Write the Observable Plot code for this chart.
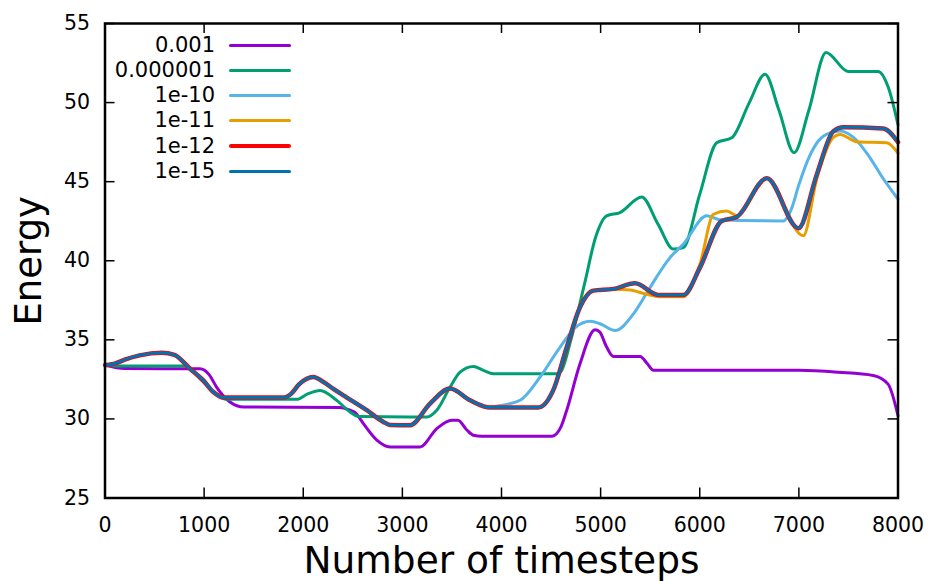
<!DOCTYPE html>
<html>
<head>
<meta charset="utf-8">
<script src="https://cdn.jsdelivr.net/npm/d3@7"></script>
<script src="https://cdn.jsdelivr.net/npm/@observablehq/plot@0.6"></script>
<style>
  html, body { margin: 0; padding: 0; background: #fff; }
  #wrap { position: relative; width: 932px; height: 581px; font-family: "DejaVu Sans", sans-serif; }
  .lg-label { position: absolute; font-size: 21px; line-height: 24px; text-align: right; white-space: nowrap; color: #000; }
  .lg-swatch { position: absolute; border-radius: 2px; }
</style>
</head>
<body>
<div id="wrap"></div>
<script>
// ---- data ----
const seriesNames = ["0.001", "0.000001", "1e-10", "1e-11", "1e-12", "1e-15"];
const seriesColors = ["#9400d3", "#009e73", "#56b4e9", "#e69f00", "#ff0000", "#0072b2"];
const seriesWidths = [3, 3, 3, 3, 4.5, 3];
const legendWidths = [3, 3, 3, 3, 4, 3];

const xTicks = [0, 1000, 2000, 3000, 4000, 5000, 6000, 7000, 8000];
const yTicks = [25, 30, 35, 40, 45, 50, 55];

const x_0001 = [0, 200, 958, 1050, 1127, 1261, 1400, 2371, 2450, 2540, 2607, 2742, 2876, 3178, 3347, 3498, 3561, 3650, 3716, 3800, 4506, 4600, 4658, 4792, 4944, 4990, 5061, 5129, 5398, 5470, 5533, 7000, 7400, 7750, 7900, 8000];
const y_0001 = [33.4, 33.18, 33.17, 32.8, 32.0, 31.07, 30.75, 30.72, 30.6, 30.3, 29.7, 28.66, 28.23, 28.23, 29.39, 29.92, 29.92, 29.3, 28.97, 28.9, 28.9, 29.5, 30.55, 33.49, 35.63, 35.5, 34.54, 33.95, 33.95, 33.5, 33.07, 33.07, 32.95, 32.75, 32.2, 30.2];

const x_1e6 = [0, 200, 827, 950, 1100, 1225, 1934, 2050, 2170, 2338, 2472, 2560, 3246, 3347, 3480, 3582, 3716, 3817, 3918, 4558, 4600, 4700, 4840, 4950, 5061, 5195, 5414, 5580, 5734, 5835, 6000, 6171, 6323, 6500, 6658, 6800, 6951, 7100, 7274, 7496, 7800, 7900, 8000];
const y_1e6 = [33.4, 33.34, 33.34, 32.6, 31.7, 31.24, 31.24, 31.6, 31.8, 31.17, 30.44, 30.15, 30.12, 30.55, 32.0, 32.96, 33.32, 33.07, 32.86, 32.86, 33.0, 35.0, 38.6, 41.5, 42.84, 43.05, 44.03, 42.3, 40.74, 40.84, 44.2, 47.46, 47.77, 50.0, 51.79, 49.5, 46.83, 49.5, 53.17, 51.97, 51.97, 51.0, 48.6];

const x_1e12 = [0, 100, 200, 350, 572, 700, 858, 992, 1093, 1194, 1800, 1880, 1960, 2102, 2200, 2304, 2405, 2641, 2809, 2876, 3077, 3279, 3480, 3683, 3884, 4372, 4521, 4658, 4792, 4926, 5129, 5347, 5582, 5835, 6003, 6222, 6373, 6676, 6996, 7181, 7348, 7449, 7852, 8000];
const y_1e12 = [33.4, 33.5, 33.75, 34.02, 34.18, 34.05, 33.17, 32.44, 31.7, 31.35, 31.35, 31.6, 32.2, 32.65, 32.35, 31.9, 31.49, 30.55, 29.81, 29.62, 29.6, 30.97, 31.92, 31.18, 30.72, 30.72, 31.8, 34.54, 37.06, 38.11, 38.22, 38.57, 37.84, 37.84, 39.58, 42.52, 42.77, 45.21, 42.06, 45.46, 48.19, 48.44, 48.36, 47.5];

const x_1e15 = x_1e12.slice();
const y_1e15 = y_1e12.slice();

const x_1e10 = [0, 100, 200, 350, 572, 700, 858, 992, 1093, 1194, 1800, 1880, 1960, 2102, 2200, 2304, 2405, 2641, 2809, 2876, 3077, 3279, 3480, 3683, 3884, 3950, 4187, 4389, 4590, 4750, 4893, 5000, 5146, 5331, 5450, 5567, 5700, 5835, 6071, 6200, 6844, 6920, 7000, 7100, 7200, 7314, 7415, 7550, 7718, 7850, 8000];
const y_1e10 = [33.4, 33.5, 33.75, 34.02, 34.18, 34.05, 33.17, 32.44, 31.7, 31.35, 31.35, 31.6, 32.2, 32.65, 32.35, 31.9, 31.49, 30.55, 29.81, 29.62, 29.6, 30.97, 31.92, 31.18, 30.72, 30.8, 31.18, 32.65, 34.53, 35.8, 36.17, 36.0, 35.59, 36.64, 37.8, 39.0, 40.2, 41.05, 42.84, 42.6, 42.52, 43.2, 44.8, 46.5, 47.6, 48.09, 48.2, 47.8, 46.51, 45.2, 43.9];

const x_1e11 = [0, 100, 200, 350, 572, 700, 858, 992, 1093, 1194, 1800, 1880, 1960, 2102, 2200, 2304, 2405, 2641, 2809, 2876, 3077, 3279, 3480, 3683, 3884, 4372, 4521, 4658, 4792, 4926, 5129, 5300, 5450, 5600, 5835, 6003, 6138, 6272, 6373, 6676, 7045, 7181, 7348, 7415, 7583, 7886, 8000];
const y_1e11 = [33.4, 33.5, 33.75, 34.02, 34.18, 34.05, 33.17, 32.44, 31.7, 31.35, 31.35, 31.6, 32.2, 32.65, 32.35, 31.9, 31.49, 30.55, 29.81, 29.62, 29.6, 30.97, 31.92, 31.18, 30.72, 30.72, 31.8, 34.54, 37.06, 38.11, 38.2, 38.15, 37.9, 37.73, 37.73, 39.8, 42.94, 43.15, 42.85, 45.21, 41.58, 45.2, 47.8, 47.99, 47.52, 47.46, 46.8];

const xTitle = "Number of timesteps";
const yTitle = "Energy";

// ---- build table ----
const seriesX = [x_0001, x_1e6, x_1e10, x_1e11, x_1e12, x_1e15];
const seriesY = [y_0001, y_1e6, y_1e10, y_1e11, y_1e12, y_1e15];
const rows = [];
seriesNames.forEach((name, i) => {
  seriesX[i].forEach((xv, j) => rows.push({series: name, idx: i, x: xv, y: seriesY[i][j]}));
});

const W = 932, H = 581;
const mL = 104.5, mR = 34.5, mT = 23, mB = 83.5;
const innerH = H - mT - mB;
const tickLen = 10;

const lineMarks = seriesNames.map((name, i) =>
  Plot.line(rows.filter(r => r.idx === i), {
    x: "x", y: "y", stroke: seriesColors[i], strokeWidth: seriesWidths[i],
    curve: "monotone-x", strokeLinejoin: "round", strokeLinecap: "round"
  })
);

const chart = Plot.plot({
  width: W, height: H,
  marginLeft: mL, marginRight: mR, marginTop: mT, marginBottom: mB,
  style: {fontFamily: "DejaVu Sans, sans-serif", background: "#fff", color: "#000"},
  x: {domain: [0, 8000]},
  y: {domain: [25, 55]},
  marks: [
    ...lineMarks,
    // inward ticks on all four sides
    Plot.tickX(xTicks, {x: d => d, insetTop: innerH - tickLen, stroke: "#000", strokeWidth: 1.5}),
    Plot.tickX(xTicks, {x: d => d, insetBottom: innerH - tickLen, stroke: "#000", strokeWidth: 1.5}),
    Plot.tickY(yTicks, {y: d => d, insetRight: (W - mL - mR) - tickLen, stroke: "#000", strokeWidth: 1.5}),
    Plot.tickY(yTicks, {y: d => d, insetLeft: (W - mL - mR) - tickLen, stroke: "#000", strokeWidth: 1.5}),
    Plot.frame({stroke: "#000", strokeWidth: 2.5}),
    Plot.axisX({ticks: xTicks, tickFormat: d => String(d), tickSize: 0, tickPadding: 19, fontSize: 20.5, label: null}),
    Plot.axisY({ticks: yTicks, tickFormat: d => String(d), tickSize: 0, tickPadding: 15, fontSize: 20.5, label: null}),
    Plot.text([xTitle], {text: d => d, frameAnchor: "bottom", lineAnchor: "middle", textAnchor: "middle", dy: 63, fontSize: 37.5, fill: "#000"}),
    Plot.text([yTitle], {text: d => d, frameAnchor: "left", lineAnchor: "middle", textAnchor: "middle", dx: -75.5, rotate: -90, fontSize: 37, fill: "#000"})
  ]
});

const wrap = document.getElementById("wrap");
wrap.appendChild(chart);

// ---- key (legend) inside the plot, top left ----
const keyRight = 215, swLeft = 229, swWidth = 62, rowTop = 45, rowStep = 25.27;
seriesNames.forEach((name, i) => {
  const cy = rowTop + i * rowStep;
  const lab = document.createElement("div");
  lab.className = "lg-label";
  lab.textContent = name;
  lab.style.right = (W - keyRight) + "px";
  lab.style.top = (cy - 12.5) + "px";
  wrap.appendChild(lab);
  const sw = document.createElement("div");
  sw.className = "lg-swatch";
  sw.style.left = swLeft + "px";
  sw.style.width = swWidth + "px";
  sw.style.height = legendWidths[i] + "px";
  sw.style.top = (cy - legendWidths[i] / 2) + "px";
  sw.style.background = seriesColors[i];
  wrap.appendChild(sw);
});
</script>
</body>
</html>
